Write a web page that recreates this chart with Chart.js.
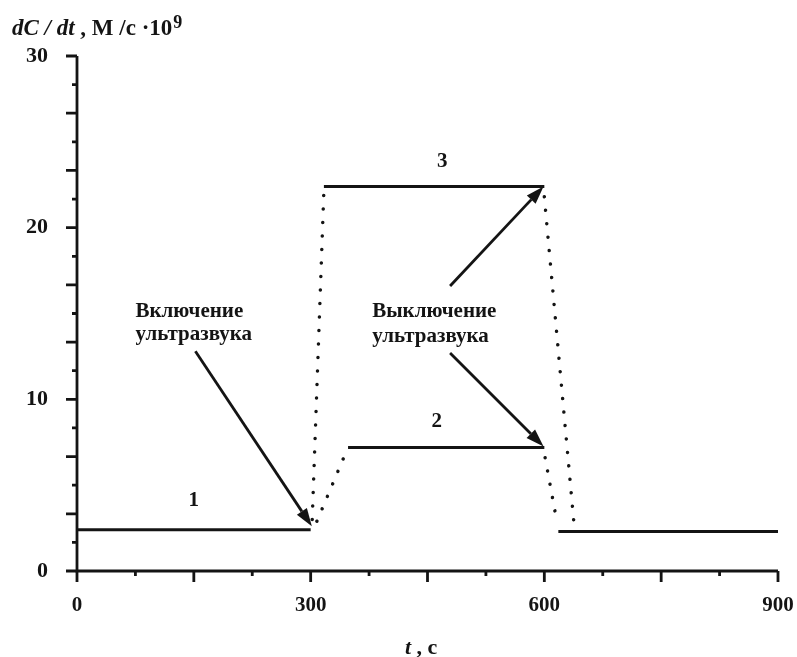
<!DOCTYPE html>
<html>
<head>
<meta charset="utf-8">
<script src="https://cdn.jsdelivr.net/npm/chart.js@4.4.0/dist/chart.umd.min.js"></script>
<style>
  html, body { margin: 0; padding: 0; background: #fff; }
  #wrap { width: 797px; height: 657px; }
</style>
</head>
<body>
<div id="wrap"><canvas id="rate"></canvas></div>
<script>
// plateaus (solid) and transitions (dotted), [t, dC/dt]
const plateau1 = [[0, 2.4], [300, 2.4]];
const plateau2 = [[348, 7.2], [600, 7.2]];
const plateau3 = [[317, 22.4], [600, 22.4]];
const plateau4 = [[618, 2.3], [900, 2.3]];
const riseFast = [[302, 3.0], [317, 22.2]];
const riseSlow = [[308, 2.9], [348, 7.2]];
const fallFast = [[600, 21.8], [638, 2.8]];
const fallSlow = [[601, 6.6], [616, 2.9]];

const xTickLabels = [0, 300, 600, 900];
const yTickLabels = [0, 10, 20, 30];

// annotations in data units
const arrows = [
  { from: [152, 12.8], to: [301.5, 2.6] },
  { from: [479, 16.6], to: [599, 22.4] },
  { from: [479, 12.7], to: [599, 7.25] }
];
const notes = [
  { text: 'Включение', at: [75, 14.8], align: 'left' },
  { text: 'ультразвука', at: [75, 13.45], align: 'left' },
  { text: 'Выключение', at: [379, 14.8], align: 'left' },
  { text: 'ультразвука', at: [379, 13.35], align: 'left' },
  { text: '1', at: [150, 3.8], align: 'center' },
  { text: '2', at: [462, 8.4], align: 'center' },
  { text: '3', at: [469, 23.55], align: 'center' }
];

const ink = '#141414';
const serif = '"Liberation Serif", "Times New Roman", serif';

function pts(arr) {
  return arr.map(p => ({ x: p[0], y: p[1] }));
}
function solid(arr) {
  return { data: pts(arr), borderColor: ink, borderWidth: 3, pointRadius: 0, tension: 0 };
}
function dotted(arr) {
  return {
    data: pts(arr), borderColor: ink, borderWidth: 3.5, pointRadius: 0, tension: 0,
    borderDash: [0.01, 13.5], borderCapStyle: 'round'
  };
}

// axis lines, long/short ticks, arrows, texts
const decor = {
  id: 'decor',
  afterDraw(chart) {
    const ctx = chart.ctx;
    const xs = chart.scales.x, ys = chart.scales.y;
    const a = chart.chartArea;
    ctx.save();
    ctx.strokeStyle = ink;
    ctx.fillStyle = ink;
    ctx.lineWidth = 2.8;
    ctx.lineCap = 'butt';

    ctx.beginPath();
    ctx.moveTo(a.left, a.top);
    ctx.lineTo(a.left, a.bottom);
    ctx.lineTo(a.right, a.bottom);
    ctx.stroke();

    ctx.beginPath();
    for (let k = 0; k <= 18; k++) {
      const py = ys.getPixelForValue(k * 10 / 6);
      ctx.moveTo(a.left, py);
      ctx.lineTo(a.left - (k % 2 === 0 ? 11 : 5), py);
    }
    for (let v = 0; v <= 900; v += 75) {
      const px = xs.getPixelForValue(v);
      ctx.moveTo(px, a.bottom);
      ctx.lineTo(px, a.bottom + (v % 150 === 0 ? 11 : 5));
    }
    ctx.stroke();

    arrows.forEach(ar => {
      const x0 = xs.getPixelForValue(ar.from[0]), y0 = ys.getPixelForValue(ar.from[1]);
      const x1 = xs.getPixelForValue(ar.to[0]), y1 = ys.getPixelForValue(ar.to[1]);
      const ang = Math.atan2(y1 - y0, x1 - x0);
      const len = 18, half = 6;
      const bx = x1 - len * Math.cos(ang), by = y1 - len * Math.sin(ang);
      ctx.lineWidth = 2.8;
      ctx.beginPath();
      ctx.moveTo(x0, y0);
      ctx.lineTo(bx, by);
      ctx.stroke();
      ctx.beginPath();
      ctx.moveTo(x1, y1);
      ctx.lineTo(bx + half * Math.sin(ang), by - half * Math.cos(ang));
      ctx.lineTo(bx - half * Math.sin(ang), by + half * Math.cos(ang));
      ctx.closePath();
      ctx.fill();
    });

    ctx.font = 'bold 21px ' + serif;
    ctx.textBaseline = 'alphabetic';
    notes.forEach(n => {
      ctx.textAlign = n.align;
      ctx.fillText(n.text, xs.getPixelForValue(n.at[0]), ys.getPixelForValue(n.at[1]));
    });

    // y title
    ctx.textAlign = 'left';
    let x = 12;
    ctx.font = 'italic bold 23px ' + serif;
    ctx.fillText('dC / dt', x, 35);
    x += ctx.measureText('dC / dt').width;
    ctx.font = 'bold 23px ' + serif;
    ctx.fillText(' , M /c ·10', x, 35);
    x += ctx.measureText(' , M /c ·10').width + 1;
    ctx.font = 'bold 18px ' + serif;
    ctx.fillText('9', x, 28);

    // x title
    x = 405;
    ctx.font = 'italic bold 22px ' + serif;
    ctx.fillText('t', x, 654);
    x += ctx.measureText('t').width;
    ctx.font = 'bold 22px ' + serif;
    ctx.fillText(' , c', x, 654);
    ctx.restore();
  }
};

new Chart(document.getElementById('rate'), {
  type: 'line',
  data: {
    datasets: [
      solid(plateau1), solid(plateau2), solid(plateau3), solid(plateau4),
      dotted(riseFast), dotted(riseSlow), dotted(fallFast), dotted(fallSlow)
    ]
  },
  options: {
    responsive: true,
    maintainAspectRatio: false,
    animation: false,
    layout: { padding: { top: 56, right: 19, left: 0, bottom: 0 } },
    plugins: { legend: { display: false }, tooltip: { enabled: false } },
    scales: {
      x: {
        type: 'linear', min: 0, max: 900,
        grid: { display: false, drawTicks: false },
        border: { display: false },
        ticks: { font: { family: serif, size: 21, weight: 'bold' }, color: ink, padding: 22 },
        afterBuildTicks: s => { s.ticks = xTickLabels.map(v => ({ value: v })); },
        afterFit: s => { s.height = 86; s.paddingLeft = 0; s.paddingRight = 0; }
      },
      y: {
        type: 'linear', min: 0, max: 30,
        grid: { display: false, drawTicks: false },
        border: { display: false },
        ticks: { font: { family: serif, size: 22, weight: 'bold' }, color: ink, padding: 29 },
        afterBuildTicks: s => { s.ticks = yTickLabels.map(v => ({ value: v })); },
        afterFit: s => { s.width = 77; s.paddingTop = 0; s.paddingBottom = 0; }
      }
    }
  },
  plugins: [decor]
});
</script>
</body>
</html>
